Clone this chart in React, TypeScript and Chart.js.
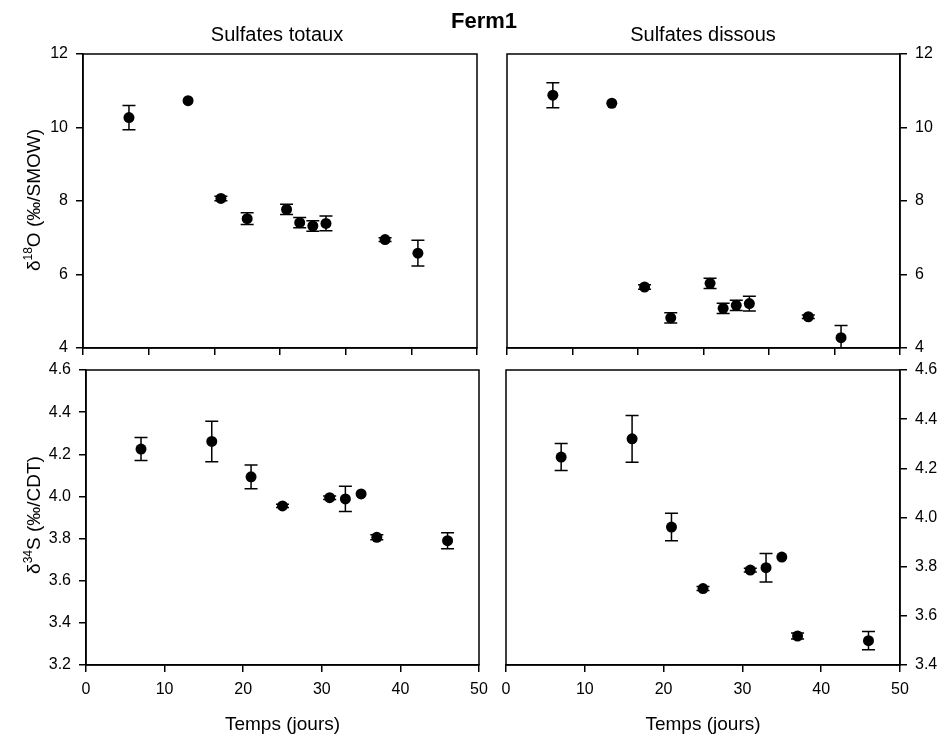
import React, { useEffect, useRef } from 'react';
import { Chart, registerables } from 'chart.js';

Chart.register(...registerables);

const FONT = "'Liberation Sans', Arial, Helvetica, sans-serif";

// ---- Data ----
const mainTitle = 'Ferm1';
const panelTitles = ['Sulfates totaux', 'Sulfates dissous'];
const xAxisTitle = 'Temps (jours)';

// top panels (δ18O)
const daysTop = [7, 16, 21, 25, 31, 33, 35, 37, 46, 51];
const o18Totaux = [10.27, 10.73, 8.07, 7.52, 7.77, 7.41, 7.32, 7.39, 6.95, 6.58];
const o18TotauxErr = [0.33, 0, 0.06, 0.16, 0.14, 0.14, 0.14, 0.2, 0.05, 0.35];
const o18Dissous = [10.88, 10.66, 5.66, 4.82, 5.76, 5.08, 5.16, 5.21, 4.85, 4.28];
const o18DissousErr = [0.34, 0, 0.06, 0.14, 0.14, 0.14, 0.14, 0.2, 0.05, 0.33];

// bottom panels (δ34S)
const daysBottom = [7, 16, 21, 25, 31, 33, 35, 37, 46];
const s34Totaux = [4.225, 4.261, 4.093, 3.955, 3.994, 3.988, 4.012, 3.806, 3.79];
const s34TotauxErr = [0.055, 0.096, 0.056, 0.008, 0.008, 0.06, 0, 0.012, 0.038];
const s34Dissous = [4.246, 4.32, 3.961, 3.711, 3.786, 3.796, 3.839, 3.518, 3.499];
const s34DissousErr = [0.055, 0.095, 0.056, 0.008, 0.008, 0.058, 0, 0.012, 0.037];

// ticks
const xTicksTop = [0, 10, 20, 30, 40, 50, 60];
const xTicksBottom = [0, 10, 20, 30, 40, 50];
const yTicksO18 = [4, 6, 8, 10, 12];
const yTicksS34Totaux = [3.2, 3.4, 3.6, 3.8, 4.0, 4.2, 4.4, 4.6];
const yTicksS34Dissous = [3.4, 3.6, 3.8, 4.0, 4.2, 4.4, 4.6];

// ---- Helpers ----
type Part = { t: string; sup?: boolean };
type TextItem = { parts: Part[]; x: number; y: number; size: number; bold?: boolean; rotate?: boolean };

function drawRich(ctx: CanvasRenderingContext2D, item: TextItem) {
  const main = `${item.bold ? 'bold ' : ''}${item.size}px ${FONT}`;
  const supSize = Math.round(item.size * 0.63);
  const sup = `${supSize}px ${FONT}`;
  ctx.save();
  ctx.fillStyle = '#000';
  ctx.textBaseline = 'alphabetic';
  ctx.textAlign = 'left';
  let total = 0;
  const widths = item.parts.map((p) => {
    ctx.font = p.sup ? sup : main;
    const w = ctx.measureText(p.t).width;
    total += w;
    return w;
  });
  ctx.translate(item.x, item.y);
  if (item.rotate) ctx.rotate(-Math.PI / 2);
  let cx = -total / 2;
  item.parts.forEach((p, i) => {
    ctx.font = p.sup ? sup : main;
    ctx.fillText(p.t, cx, p.sup ? -item.size * 0.42 : 0);
    cx += widths[i];
  });
  ctx.restore();
}

const errorBarPlugin = {
  id: 'errorBars',
  beforeDatasetsDraw(chart: any) {
    const { ctx, chartArea, scales } = chart;
    ctx.save();
    ctx.beginPath();
    ctx.rect(chartArea.left, chartArea.top, chartArea.right - chartArea.left, chartArea.bottom - chartArea.top);
    ctx.clip();
    ctx.strokeStyle = '#000';
    ctx.lineWidth = 1.5;
    chart.data.datasets.forEach((ds: any) => {
      const errs: number[] = ds.errors;
      if (!errs) return;
      ds.data.forEach((p: any, i: number) => {
        const e = errs[i];
        if (!e) return;
        const x = scales.x.getPixelForValue(p.x);
        const yT = scales.y.getPixelForValue(p.y + e);
        const yB = scales.y.getPixelForValue(p.y - e);
        ctx.beginPath();
        ctx.moveTo(x, yT);
        ctx.lineTo(x, yB);
        ctx.moveTo(x - 6.5, yT);
        ctx.lineTo(x + 6.5, yT);
        ctx.moveTo(x - 6.5, yB);
        ctx.lineTo(x + 6.5, yB);
        ctx.stroke();
      });
    });
    ctx.restore();
  },
};

const framePlugin = {
  id: 'frame',
  afterDatasetsDraw(chart: any) {
    const { ctx, chartArea } = chart;
    ctx.save();
    ctx.strokeStyle = '#000';
    ctx.lineWidth = 1.5;
    ctx.strokeRect(chartArea.left, chartArea.top, chartArea.right - chartArea.left, chartArea.bottom - chartArea.top);
    ctx.restore();
  },
};

function textPlugin(items: TextItem[]) {
  return {
    id: 'texts',
    afterDraw(chart: any) {
      items.forEach((it) => drawRich(chart.ctx, it));
    },
  };
}

type PanelSpec = {
  left: number;
  top: number;
  width: number;
  height: number;
  padding: { left: number; top: number; right: number; bottom: number };
  days: number[];
  values: number[];
  errors: number[];
  xTicks: number[];
  showXLabels: boolean;
  xHeight: number;
  yTicks: number[];
  yPos: 'left' | 'right';
  yWidth: number;
  yDecimals: number;
  texts: TextItem[];
};

function buildConfig(p: PanelSpec): any {
  const tickFont = { size: 16, family: FONT };
  const border = { display: true, color: '#000', width: 1.5 };
  const grid = { drawOnChartArea: false, drawTicks: true, tickLength: 7, color: '#000', lineWidth: 1.5 };
  return {
    type: 'scatter',
    data: {
      datasets: [
        {
          data: p.days.map((d, i) => ({ x: d, y: p.values[i] })),
          errors: p.errors,
          pointRadius: 5.5,
          pointHoverRadius: 5.5,
          backgroundColor: '#000',
          borderColor: '#000',
          borderWidth: 0,
          showLine: false,
        },
      ],
    },
    options: {
      responsive: false,
      animation: false,
      events: [],
      layout: { autoPadding: false, padding: p.padding },
      plugins: { legend: { display: false }, tooltip: { enabled: false }, title: { display: false } },
      scales: {
        x: {
          type: 'linear',
          position: 'bottom',
          min: p.xTicks[0],
          max: p.xTicks[p.xTicks.length - 1],
          border,
          grid,
          ticks: {
            display: p.showXLabels,
            color: '#000',
            font: tickFont,
            padding: 8,
            maxRotation: 0,
            autoSkip: false,
            callback: (v: any) => String(v),
          },
          afterBuildTicks: (s: any) => {
            s.ticks = p.xTicks.map((v) => ({ value: v }));
          },
          title: p.showXLabels
            ? { display: true, text: xAxisTitle, color: '#000', font: { size: 19, family: FONT }, padding: { top: 0, bottom: 2 } }
            : { display: false },
          afterFit: (s: any) => {
            s.height = p.xHeight;
          },
        },
        y: {
          type: 'linear',
          position: p.yPos,
          min: p.yTicks[0],
          max: p.yTicks[p.yTicks.length - 1],
          border,
          grid,
          ticks: {
            color: '#000',
            font: tickFont,
            padding: 8,
            autoSkip: false,
            callback: (v: any) => Number(v).toFixed(p.yDecimals),
          },
          afterBuildTicks: (s: any) => {
            s.ticks = p.yTicks.map((v) => ({ value: v }));
          },
          afterFit: (s: any) => {
            s.width = p.yWidth;
          },
        },
      },
    },
    plugins: [errorBarPlugin, framePlugin, textPlugin(p.texts)],
  };
}

function Panel({ spec }: { spec: PanelSpec }) {
  const ref = useRef<HTMLCanvasElement>(null);
  useEffect(() => {
    const chart = new Chart(ref.current as HTMLCanvasElement, buildConfig(spec));
    return () => chart.destroy();
  }, []);
  return (
    <canvas
      ref={ref}
      width={spec.width}
      height={spec.height}
      style={{ position: 'absolute', left: spec.left, top: spec.top, width: spec.width, height: spec.height }}
    />
  );
}

const panels: PanelSpec[] = [
  {
    left: 0, top: 0, width: 540, height: 372,
    padding: { left: 0, top: 54, right: 63, bottom: 0 },
    days: daysTop, values: o18Totaux, errors: o18TotauxErr,
    xTicks: xTicksTop, showXLabels: false, xHeight: 24,
    yTicks: yTicksO18, yPos: 'left', yWidth: 83, yDecimals: 0,
    texts: [
      { parts: [{ t: mainTitle }], x: 484, y: 28, size: 22, bold: true },
      { parts: [{ t: panelTitles[0] }], x: 277, y: 40.5, size: 20 },
      { parts: [{ t: 'δ' }, { t: '18', sup: true }, { t: 'O (‰/SMOW)' }], x: 40, y: 200, size: 19, rotate: true },
    ],
  },
  {
    left: 480, top: 0, width: 458, height: 372,
    padding: { left: 27, top: 54, right: 0, bottom: 0 },
    days: daysTop, values: o18Dissous, errors: o18DissousErr,
    xTicks: xTicksTop, showXLabels: false, xHeight: 24,
    yTicks: yTicksO18, yPos: 'right', yWidth: 38, yDecimals: 0,
    texts: [{ parts: [{ t: panelTitles[1] }], x: 223, y: 40.5, size: 20 }],
  },
  {
    left: 0, top: 350, width: 500, height: 388,
    padding: { left: 0, top: 20, right: 21, bottom: 0 },
    days: daysBottom, values: s34Totaux, errors: s34TotauxErr,
    xTicks: xTicksBottom, showXLabels: true, xHeight: 73,
    yTicks: yTicksS34Totaux, yPos: 'left', yWidth: 86, yDecimals: 1,
    texts: [
      { parts: [{ t: 'δ' }, { t: '34', sup: true }, { t: 'S (‰/CDT)' }], x: 40, y: 165, size: 19, rotate: true },
    ],
  },
  {
    left: 480, top: 350, width: 458, height: 388,
    padding: { left: 26, top: 20, right: 0, bottom: 0 },
    days: daysBottom, values: s34Dissous, errors: s34DissousErr,
    xTicks: xTicksBottom, showXLabels: true, xHeight: 73,
    yTicks: yTicksS34Dissous, yPos: 'right', yWidth: 38, yDecimals: 1,
    texts: [],
  },
];

export default function App() {
  return (
    <div style={{ position: 'absolute', left: 0, top: 0, width: 938, height: 738, background: '#fff' }}>
      {panels.map((p, i) => (
        <Panel key={i} spec={p} />
      ))}
    </div>
  );
}
